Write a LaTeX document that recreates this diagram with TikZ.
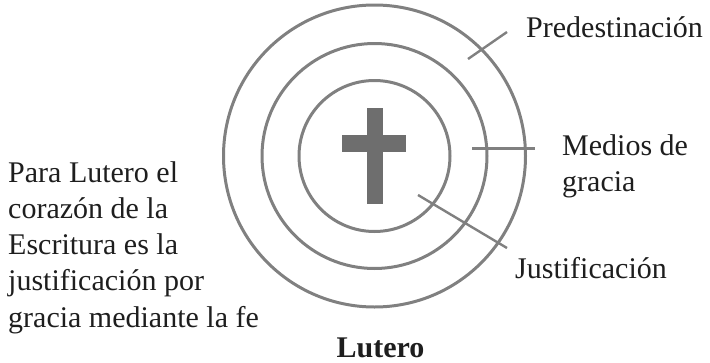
\documentclass[tikz,border=0pt]{standalone}
\usepackage{fontspec}
\setmainfont{Liberation Serif}
\definecolor{ring}{HTML}{808080}
\definecolor{crossc}{HTML}{6E6E6E}
\definecolor{ink}{HTML}{1E1E1E}
\tikzset{
  ringline/.style={draw=ring, line width=3pt},
  leader/.style={draw=ring, line width=2.4pt},
  lbl/.style={inner sep=0pt, anchor=base west, text=ink, font=\fontsize{30}{36.25}\selectfont},
}
\begin{document}
\begin{tikzpicture}[x=1pt,y=-1pt]
\useasboundingbox (0,0) rectangle (710,362);
% rings
\coordinate (c) at (374.5,156);
\draw[ringline] (c) circle [radius=151pt];
\draw[ringline] (c) circle [radius=112.5pt];
\draw[ringline] (c) circle [radius=75.5pt];
% cross
\fill[crossc] (366.7,108) rectangle (382.7,204);
\fill[crossc] (342,135) rectangle (405.7,152.3);
% labels
\node[lbl] (pre) at (526,37) {Predestinación};
\node[lbl] (med) at (562,155) {Medios de};
\node[lbl] (gra) at (562,191) {gracia};
\node[lbl] (jus) at (515,278) {Justificación};
\node[lbl, align=left] (para) at (8,327) {Para Lutero el\\corazón de la\\Escritura es la\\justificación por\\gracia mediante la fe};
\node[inner sep=0pt, anchor=base, text=ink, font=\fontsize{30}{36}\selectfont\bfseries] (lut) at (380.5,357) {Lutero};
% leaders
\coordinate (p1) at (468,59);
\coordinate (p2) at (507,32);
\coordinate (m1) at (472,148.5);
\coordinate (m2) at (535,148.5);
\coordinate (j1) at (418,195);
\coordinate (j2) at (507,248);
\draw[leader] (p1) -- (p2);
\draw[leader] (m1) -- (m2);
\draw[leader] (j1) -- (j2);
\end{tikzpicture}
\end{document}
